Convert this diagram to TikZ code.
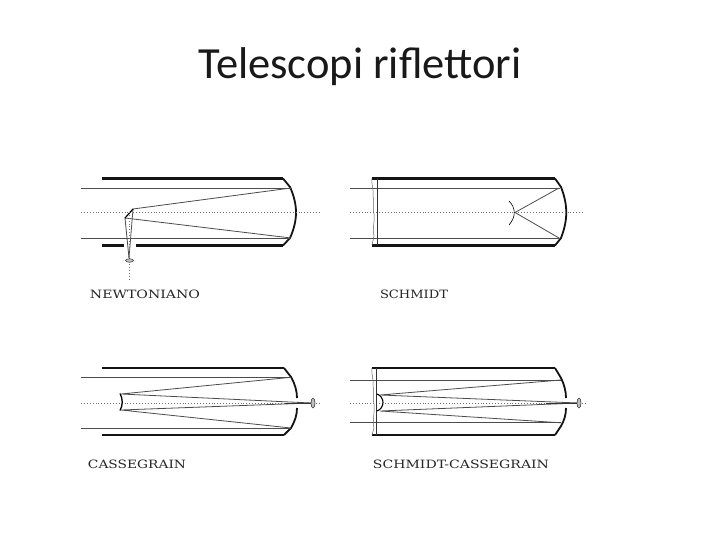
\documentclass[tikz,border=0pt]{standalone}
\usepackage{graphicx}
\usepackage{fontspec}
\setmainfont{Carlito}
\newfontfamily\lblfont{DejaVu Serif}
\usetikzlibrary{shapes.geometric}
\newcommand{\lbltext}[2]{\resizebox{#1pt}{8.5pt}{\lblfont #2}}
\tikzset{
  wall/.style={line width=2.4pt,black!92},
  ray/.style={line width=0.8pt,black!70},
  axisline/.style={line width=0.9pt,black!55,dotted},
  mirror/.style={line width=1.8pt,black!92},
  lens/.style={draw=black!75,fill=black!25,line width=0.6pt,ellipse},
  lbl/.style={text=black!85,inner sep=0pt},
}
\begin{document}
\begin{tikzpicture}[x=1pt,y=-1pt]
\useasboundingbox (0,0) rectangle (720,540);
\fill[white] (0,0) rectangle (720,540);
\node[font=\fontsize{44.5}{50}\selectfont,text=black!90,inner sep=0pt] (title) at (360,67) {Telescopi riflettori};

% Newtoniano
\draw[wall] (102,178.5) -- (283,178.5);
\draw[wall] (102,245.5) -- (124,245.5) (136,245.5) -- (283,245.5);
\draw[mirror] (283,178.5) -- (290,187) .. controls (298,205) and (298,220) .. (290,238) -- (283,245.5);
\draw[ray] (81,188) -- (291,188) (81,238.3) -- (291,238.3);
\draw[axisline] (81,212.7) -- (319,212.7);
\draw[ray] (291,188) -- (133,209) -- (129,258);
\draw[ray] (291,238) -- (125,218) -- (129,258);
\draw[line width=1.2pt] (133,209) -- (125,218);
\draw[axisline] (129,212) -- (129,281);
\node[lens,minimum width=8pt,minimum height=3.5pt,inner sep=0pt] (lensA) at (129.5,260.5) {};
\node[lbl] (labelA) at (145,294) {\lbltext{110}{NEWTONIANO}};

% Schmidt
\draw[wall] (372,178.5) -- (555,178.5) (372,245.5) -- (555,245.5);
\draw[mirror] (555,178.5) -- (561,187) .. controls (568,205) and (568,220) .. (561,238) -- (555,245.5);
\draw[ray] (350,188) -- (560,188) (350,238.3) -- (560,238.3);
\draw[axisline] (350,212.5) -- (584,212.5);
\draw[line width=0.6pt,black!80] (377,178) -- (377,245);
\draw[line width=0.5pt,black!60] (372,178) .. controls (371,184) and (374,190) .. (373,196) .. controls (375,204) and (372,208) .. (374,214) .. controls (375,222) and (372,230) .. (374,236) -- (372,245);
\draw[ray] (559,188) -- (515,212.5) -- (559,238);
\draw[line width=0.6pt] (509,201) .. controls (516,208) and (516,217) .. (509,225);
\node[lbl] (labelB) at (414,294) {\lbltext{68}{SCHMIDT}};

% Cassegrain
\draw[wall] (102,368) -- (284,368) (102,435) -- (284,435);
\draw[mirror] (284,368) -- (291,377) .. controls (295,384) and (297,391) .. (297,398);
\draw[mirror] (297,408) .. controls (297,415) and (295,421) .. (291,428) -- (284,435);
\draw[ray] (81,377.3) -- (291,377.3) (81,428) -- (291,428);
\draw[axisline] (81,403) -- (320,403);
\draw[ray] (291,377.3) -- (121,394) -- (311,403);
\draw[ray] (291,428) -- (121,410) -- (311,403);
\draw[line width=1.3pt] (120,393.5) .. controls (123,399) and (123,405) .. (120,410.5);
\draw[line width=1pt,black!80] (285,403) -- (311,403);
\node[lens,minimum width=4pt,minimum height=10pt,inner sep=0pt] (lensC) at (313,403) {};
\node[lbl] (labelC) at (137,464.3) {\lbltext{98}{CASSEGRAIN}};

% Schmidt-Cassegrain
\draw[wall] (372,368) -- (555,368) (372,435) -- (555,435);
\draw[mirror] (555,368) -- (561,378) .. controls (564,384) and (566,391) .. (566,398);
\draw[mirror] (566,408) .. controls (566,415) and (564,421) .. (561,426) -- (555,435);
\draw[ray] (350,380) -- (561,380) (350,422.8) -- (561,422.8);
\draw[axisline] (350,403) -- (585,403);
\draw[line width=0.6pt,black!80] (376,368) -- (376,435);
\draw[line width=0.5pt,black!60] (372,368) .. controls (371,374) and (374,380) .. (373,386) .. controls (375,394) and (372,398) .. (374,404) .. controls (375,412) and (372,422) .. (374,428) -- (372,435);
\draw[ray] (561,380) -- (380,395) -- (578,403);
\draw[ray] (561,422.8) -- (380,411) -- (578,403);
\draw[line width=1.1pt] (377,394) .. controls (385,397) and (385,408) .. (377,411);
\draw[line width=1pt,black!80] (546,403) -- (578,403);
\node[lens,minimum width=4pt,minimum height=10pt,inner sep=0pt] (lensD) at (579,403) {};
\node[lbl] (labelD) at (461,464.3) {\lbltext{176}{SCHMIDT-CASSEGRAIN}};
\end{tikzpicture}
\end{document}
